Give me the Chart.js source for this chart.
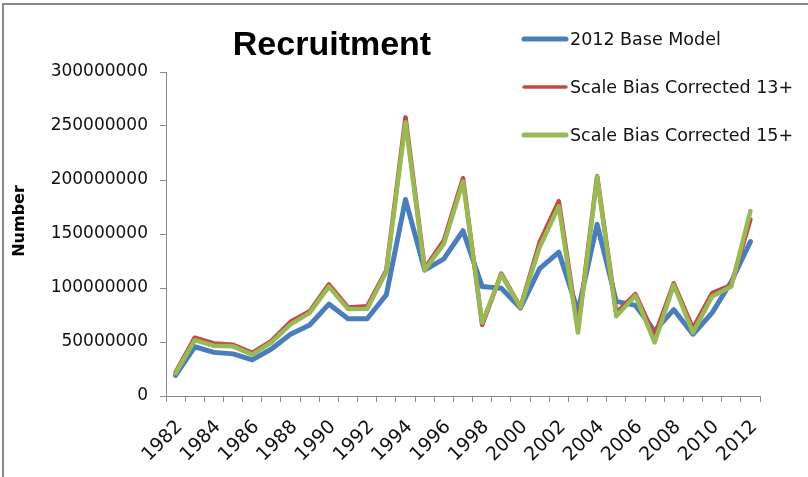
<!DOCTYPE html>
<html>
<head>
<meta charset="utf-8">
<script src="https://cdn.jsdelivr.net/npm/chart.js@4.4.1/dist/chart.umd.min.js"></script>
<style>
  body { margin: 0; background: #fff; }
  #wrap { position: relative; width: 808px; height: 477px; }
  #frame {
    position: absolute; left: 2px; top: 3px; right: 0; bottom: 0;
    border-top: 2px solid #8a8a8a; border-left: 2px solid #8a8a8a;
    pointer-events: none;
  }
</style>
</head>
<body>
<div id="wrap">
  <canvas id="chartCanvas" width="808" height="477"></canvas>
  <div id="frame"></div>
</div>
<script>
const years = ['1982','1983','1984','1985','1986','1987','1988','1989','1990','1991',
               '1992','1993','1994','1995','1996','1997','1998','1999','2000','2001',
               '2002','2003','2004','2005','2006','2007','2008','2009','2010','2011','2012'];

const baseModel = [19000000, 45600000, 40400000, 39000000, 33500000, 43500000, 57200000, 65700000, 85100000, 71500000,
                   71500000, 93700000, 181900000, 116500000, 127000000, 153000000, 101300000, 99700000, 81500000, 118000000,
                   133200000, 78500000, 159000000, 87600000, 83900000, 60200000, 80000000, 57200000, 77000000, 105800000, 143000000];

const corrected13 = [22000000, 54000000, 48700000, 47400000, 40000000, 51000000, 68700000, 78500000, 103400000, 82000000,
                     83000000, 116500000, 258000000, 118000000, 143900000, 201600000, 65700000, 113400000, 82000000, 142300000,
                     180400000, 62000000, 203500000, 77000000, 94300000, 55700000, 104300000, 62700000, 95200000, 102800000, 163600000];

const corrected15 = [21000000, 51700000, 46500000, 46000000, 38300000, 49600000, 66300000, 77000000, 101300000, 80600000,
                     80800000, 115000000, 253400000, 116500000, 140800000, 198600000, 67800000, 112500000, 82100000, 137800000,
                     175700000, 58700000, 203000000, 73900000, 93000000, 49600000, 102800000, 58700000, 92200000, 101300000, 171200000];

const yTicks = [0, 50000000, 100000000, 150000000, 200000000, 250000000, 300000000];

const seriesNames = ['2012 Base Model', 'Scale Bias Corrected 13+', 'Scale Bias Corrected 15+'];

const tickFont = { family: 'DejaVu Sans', size: 17 };

// title, axis name and legend drawn by hand so they sit where excel put them
const overlay = {
    id: 'overlay',
    afterDraw(chart) {
        const ctx = chart.ctx;
        ctx.save();
        ctx.fillStyle = '#000';
        ctx.font = 'bold 34px "Liberation Sans"';
        ctx.textAlign = 'center';
        ctx.textBaseline = 'middle';
        ctx.fillText('Recruitment', 332, 46);

        ctx.save();
        ctx.translate(20, 221);
        ctx.rotate(-Math.PI / 2);
        ctx.font = 'bold 16px "DejaVu Sans"';
        ctx.fillText('Number', 0, 0);
        ctx.restore();

        const rows = [39, 87, 135];
        ctx.textAlign = 'left';
        ctx.font = '17.5px "DejaVu Sans"';
        chart.data.datasets.forEach((ds, i) => {
            ctx.strokeStyle = ds.borderColor;
            ctx.lineWidth = ds.legendWidth;
            ctx.lineCap = 'round';
            ctx.beginPath();
            ctx.moveTo(524, rows[i]);
            ctx.lineTo(566, rows[i]);
            ctx.stroke();
            ctx.fillStyle = '#111';
            ctx.fillText(ds.label, 570, rows[i] + 1);
        });
        ctx.restore();
    }
};

new Chart('chartCanvas', {
    type: 'line',
    data: {
        labels: years,
        datasets: [
            { label: seriesNames[0], data: baseModel, borderColor: '#4a7ebb', borderWidth: 5, legendWidth: 5, order: 3 },
            { label: seriesNames[1], data: corrected13, borderColor: '#be4b48', borderWidth: 4.5, legendWidth: 3.5, order: 2 },
            { label: seriesNames[2], data: corrected15, borderColor: '#98b954', borderWidth: 4.5, legendWidth: 5, order: 1 }
        ].map(d => Object.assign(d, {
            pointRadius: 0, tension: 0, fill: false,
            borderJoinStyle: 'round', borderCapStyle: 'round'
        }))
    },
    options: {
        responsive: false,
        animation: false,
        maintainAspectRatio: false,
        layout: { padding: { top: 72, right: 48, left: 0, bottom: 0 } },
        plugins: {
            legend: { display: false },
            title: { display: false },
            tooltip: { enabled: false }
        },
        scales: {
            x: {
                type: 'category',
                offset: true,
                grid: { offset: true, drawOnChartArea: false, tickLength: 6, color: '#8a8a8a' },
                border: { color: '#8a8a8a', width: 1 },
                ticks: {
                    autoSkip: false,
                    maxRotation: 45,
                    minRotation: 45,
                    padding: 14,
                    labelOffset: 4,
                    color: '#111',
                    font: { family: 'DejaVu Sans', size: 19 },
                    callback: (v, i) => (i % 2 === 0 ? years[i] : '')
                },
                afterFit: (scale) => { scale.height = 81; }
            },
            y: {
                min: 0,
                max: 300000000,
                afterBuildTicks: (scale) => { scale.ticks = yTicks.map(v => ({ value: v })); },
                grid: { drawOnChartArea: false, tickLength: 6, color: '#8a8a8a' },
                border: { color: '#8a8a8a', width: 1 },
                ticks: {
                    padding: 12,
                    color: '#111',
                    font: tickFont,
                    callback: (v) => String(v)
                },
                afterFit: (scale) => { scale.width = 166; }
            }
        }
    },
    plugins: [overlay]
});
</script>
</body>
</html>
